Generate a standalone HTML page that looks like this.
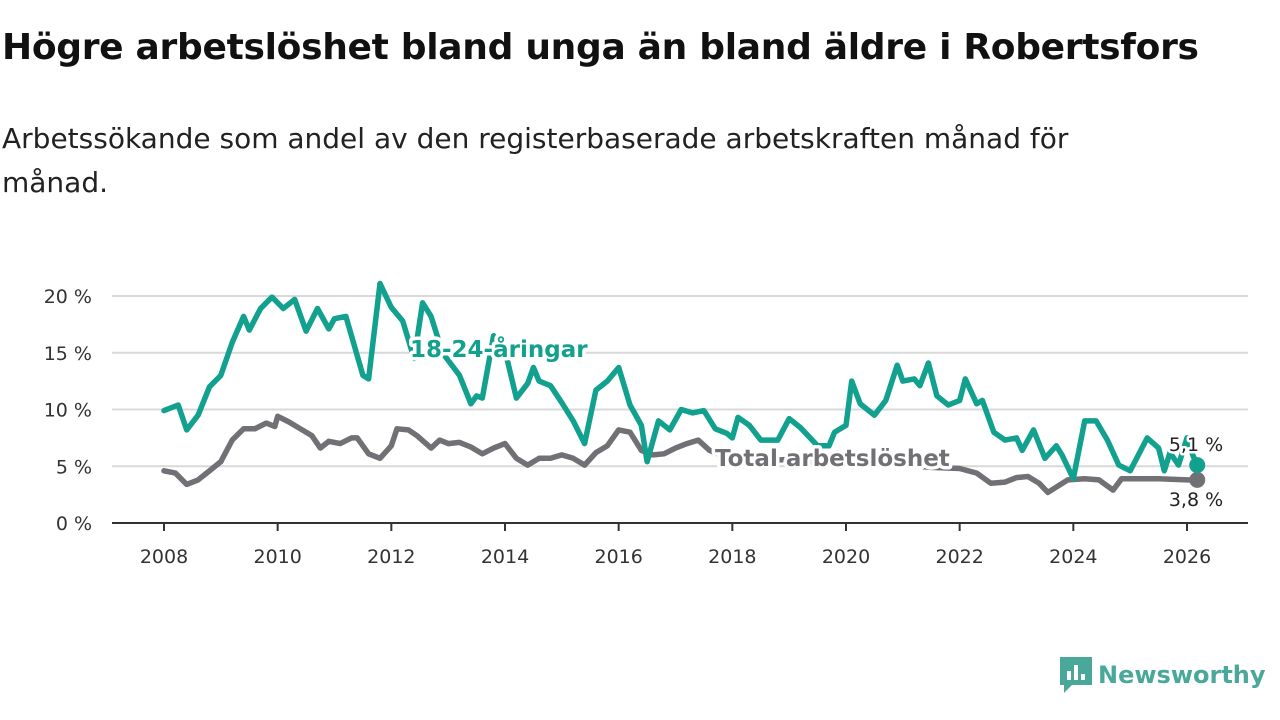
<!DOCTYPE html>
<html><head><meta charset="utf-8">
<style>
body{margin:0;width:1280px;height:720px;background:#fff;font-family:"DejaVu Sans",sans-serif;overflow:hidden;position:relative}
h1{position:absolute;left:2px;top:27px;margin:0;font-size:36px;font-weight:bold;color:#111;white-space:nowrap;letter-spacing:-0.3px}
p.sub{position:absolute;left:2px;top:117px;margin:0;font-size:28px;line-height:44px;color:#222;width:1170px}
svg{position:absolute;left:0;top:0}
</style></head><body>
<h1>Högre arbetslöshet bland unga än bland äldre i Robertsfors</h1>
<p class="sub">Arbetssökande som andel av den registerbaserade arbetskraften månad för månad.</p>
<svg id="chart" width="1280" height="720"></svg>
<script>
const yTicks=[0,5,10,15,20];
const xTicks=[2008,2010,2012,2014,2016,2018,2020,2022,2024,2026];
const youthDates=[2008.0,2008.25,2008.4,2008.6,2008.8,2009.0,2009.2,2009.4,2009.5,2009.7,2009.9,2010.1,2010.3,2010.5,2010.7,2010.9,2011.0,2011.2,2011.5,2011.6,2011.8,2012.0,2012.2,2012.4,2012.55,2012.7,2012.9,2013.2,2013.4,2013.5,2013.6,2013.8,2014.0,2014.2,2014.4,2014.5,2014.6,2014.8,2015.0,2015.2,2015.4,2015.6,2015.8,2016.0,2016.2,2016.4,2016.5,2016.7,2016.9,2017.1,2017.3,2017.5,2017.7,2017.9,2018.0,2018.1,2018.3,2018.5,2018.8,2019.0,2019.2,2019.5,2019.7,2019.8,2020.0,2020.1,2020.25,2020.5,2020.7,2020.9,2021.0,2021.2,2021.3,2021.45,2021.6,2021.8,2022.0,2022.1,2022.3,2022.4,2022.6,2022.8,2023.0,2023.1,2023.3,2023.5,2023.7,2023.8,2024.0,2024.2,2024.4,2024.6,2024.8,2025.0,2025.3,2025.5,2025.6,2025.7,2025.85,2026.0,2026.1,2026.18];
const youthValues=[9.9,10.4,8.2,9.5,12,13,15.9,18.2,17,18.9,19.9,18.9,19.7,16.9,18.9,17.1,18,18.2,13,12.7,21.1,19,17.8,14.5,19.4,18.2,15,13,10.5,11.2,11,16.5,15.2,11,12.3,13.7,12.5,12.1,10.6,9,7,11.7,12.5,13.7,10.4,8.6,5.4,9,8.2,10,9.7,9.9,8.3,7.9,7.5,9.3,8.6,7.3,7.3,9.2,8.4,6.8,6.8,8,8.6,12.5,10.5,9.5,10.8,13.9,12.5,12.7,12.1,14.1,11.2,10.4,10.8,12.7,10.5,10.8,8,7.3,7.5,6.4,8.2,5.7,6.8,6,3.9,9,9,7.3,5.1,4.6,7.5,6.6,4.6,6.2,5.1,7.5,6,5.1];
const totalDates=[2008.0,2008.2,2008.4,2008.6,2008.8,2009.0,2009.2,2009.4,2009.6,2009.8,2009.95,2010.0,2010.2,2010.4,2010.6,2010.75,2010.9,2011.1,2011.3,2011.4,2011.6,2011.8,2012.0,2012.1,2012.3,2012.45,2012.7,2012.85,2013.0,2013.2,2013.4,2013.6,2013.8,2014.0,2014.2,2014.4,2014.6,2014.8,2015.0,2015.2,2015.4,2015.6,2015.8,2016.0,2016.2,2016.4,2016.6,2016.8,2017.0,2017.2,2017.4,2017.6,2017.8,2018.2,2018.6,2019.0,2019.5,2020.0,2020.5,2021.0,2021.5,2022.0,2022.3,2022.55,2022.8,2023.0,2023.2,2023.4,2023.55,2023.9,2024.2,2024.45,2024.7,2024.85,2025.1,2025.5,2026.0,2026.18];
const totalValues=[4.6,4.4,3.4,3.8,4.6,5.4,7.3,8.3,8.3,8.8,8.5,9.4,8.9,8.3,7.7,6.6,7.2,7,7.5,7.5,6.1,5.7,6.8,8.3,8.2,7.7,6.6,7.3,7,7.1,6.7,6.1,6.6,7,5.7,5.1,5.7,5.7,6,5.7,5.1,6.2,6.8,8.2,8,6.4,6,6.1,6.6,7,7.3,6.4,6,5.8,5.5,5.6,5.3,5.2,5.4,5.1,4.9,4.8,4.4,3.5,3.6,4,4.1,3.5,2.7,3.8,3.9,3.8,2.9,3.9,3.9,3.9,3.8,3.8];

const NS='http://www.w3.org/2000/svg';
const svg=document.getElementById('chart');
const X0=112,X1=1248;
const FF='DejaVu Sans, sans-serif';
function xs(v){return 164+(v-2008)*(1187-164)/18;}
function ys(v){return 523-v*(523-296)/20;}
function mk(t,a){const e=document.createElementNS(NS,t);for(const k in a)e.setAttribute(k,a[k]);svg.appendChild(e);return e;}

yTicks.forEach(t=>{
  if(t>0){const g=mk('line',{x1:X0,x2:X1,y1:ys(t),y2:ys(t),stroke:'#d9d9d9','stroke-width':2});
  
  }
  const l=mk('text',{x:92,y:ys(t)+7,'text-anchor':'end','font-size':19,fill:'#333','font-family':FF});
  l.textContent=t+' %';
  
  
});
const ax=mk('line',{x1:X0,x2:X1,y1:523,y2:523,stroke:'#333','stroke-width':2});


xTicks.forEach(t=>{
  const tk=mk('line',{x1:xs(t),x2:xs(t),y1:523,y2:531,stroke:'#333','stroke-width':2});
  
  
  const l=mk('text',{x:xs(t),y:563,'text-anchor':'middle','font-size':19,fill:'#333','font-family':FF});
  l.textContent=t;
  
  
});
function line(d,v,c,name){
  const p=mk('path',{d:d.map((x,i)=>(i?'L':'M')+xs(x).toFixed(1)+','+ys(v[i]).toFixed(1)).join(''),fill:'none',stroke:c,'stroke-width':5.5,'stroke-linejoin':'round','stroke-linecap':'round'});
  
  
  const n=d.length-1;
  const dot=mk('circle',{cx:xs(d[n]),cy:ys(v[n]),r:8,fill:c});
  
  
}
line(totalDates,totalValues,'#717075','total-line');
line(youthDates,youthValues,'#12a08f','youth-line');
function lab(x,y,s,c,name,sz,bold,anchor){
  const t=mk('text',{x:x,y:y,'font-size':sz,'font-weight':bold?'bold':'normal',fill:c,stroke:'#fff','stroke-width':bold?7:5,'paint-order':'stroke','stroke-linejoin':'round','text-anchor':anchor||'start','font-family':FF});
  t.textContent=s;
  
  
}
lab(410,357,'18-24-åringar','#12a08f','youth-series-label',23,true);
lab(715,466,'Total arbetslöshet','#717075','total-series-label',23,true);
lab(1196,451,'5,1 %','#222','youth-end-value',19,false,'middle');
lab(1196,506,'3,8 %','#222','total-end-value',19,false,'middle');
</script>
<div style="position:absolute;left:1058px;top:655px;height:40px;display:flex;align-items:center">
<svg width="36" height="40" style="position:static"><path d="M2 2h32v28H14l-8 8v-8H2z" fill="#4aa89a"/><rect x="9" y="16" width="4" height="9" fill="#fff"/><rect x="16" y="10" width="4" height="15" fill="#fff"/><rect x="23" y="19" width="4" height="6" fill="#fff"/></svg>
<span style="font-size:24px;color:#4aa89a;margin-left:4px;font-weight:bold;font-family:'DejaVu Sans',sans-serif">Newsworthy</span></div>
</body></html>
